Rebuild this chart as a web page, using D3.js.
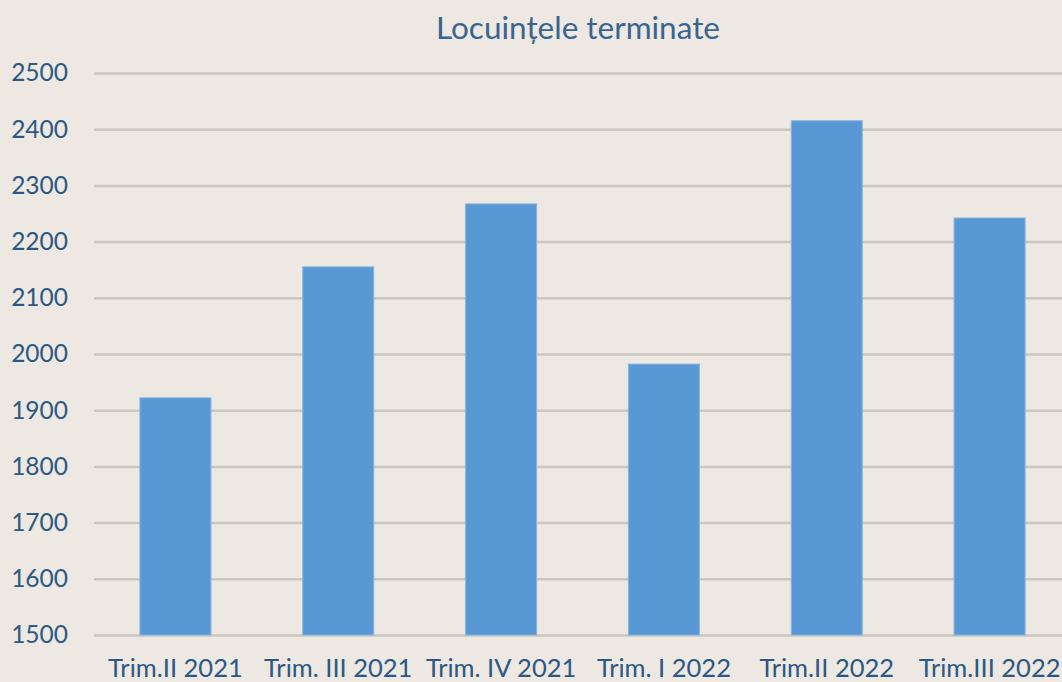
<!DOCTYPE html>
<html>
<head>
<meta charset="utf-8">
<script src="https://cdn.jsdelivr.net/npm/d3@7"></script>
<style>
  html, body { margin: 0; padding: 0; background: #ede8e2; }
  svg text { font-family: "Lato", sans-serif; }
</style>
</head>
<body>
<div id="chart"></div>
<script>
// Data
const categories = ["Trim.II 2021", "Trim. III 2021", "Trim. IV 2021", "Trim. I 2022", "Trim.II 2022", "Trim.III 2022"];
const values = [1922, 2155, 2267, 1982, 2415, 2242];
const yTicks = [1500, 1600, 1700, 1800, 1900, 2000, 2100, 2200, 2300, 2400, 2500];
const chartTitle = "Locuințele terminate";

const W = 1062, H = 682;
const plot = { left: 94, right: 1071, top: 73, bottom: 635 };

const svg = d3.select("#chart").append("svg")
    .attr("width", W)
    .attr("height", H);

svg.append("rect")
    .attr("width", W)
    .attr("height", H)
    .attr("fill", "#ede8e2");

const x = d3.scaleBand()
    .domain(categories)
    .range([plot.left, plot.right])
    .paddingInner(0.564)
    .paddingOuter(0.282);

const y = d3.scaleLinear()
    .domain([1500, 2500])
    .range([plot.bottom, plot.top]);

// gridlines + y labels
const yAxis = svg.append("g")
    .attr("transform", `translate(${plot.left},0)`)
    .call(d3.axisLeft(y)
        .tickValues(yTicks)
        .tickFormat(d3.format("d"))
        .tickSizeInner(-(W - plot.left))
        .tickSizeOuter(0)
        .tickPadding(26));

yAxis.select(".domain").remove();
yAxis.selectAll(".tick line")
    .attr("stroke", "#cbc6c0")
    .attr("stroke-width", 2.5);
yAxis.selectAll(".tick text")
    .attr("fill", "#2b5983")
    .style("font-size", "24.5px");

// bars
svg.append("g")
    .selectAll("rect")
    .data(values)
    .join("rect")
    .attr("x", (d, i) => x(categories[i]))
    .attr("y", d => y(d))
    .attr("width", x.bandwidth())
    .attr("height", d => y(1500) - y(d))
    .attr("fill", "#5898d4")
    .attr("stroke", "#86b3df")
    .attr("stroke-width", 1);

// x labels
const xAxis = svg.append("g")
    .attr("transform", `translate(0,${plot.bottom})`)
    .call(d3.axisBottom(x).tickSize(0).tickPadding(24));

xAxis.select(".domain").remove();
xAxis.selectAll(".tick text")
    .attr("fill", "#2b5983")
    .style("font-size", "25.5px");

// title
svg.append("text")
    .attr("x", 578)
    .attr("y", 39)
    .attr("text-anchor", "middle")
    .attr("fill", "#3a6590")
    .style("font-size", "31.5px")
    .text(chartTitle);
</script>
</body>
</html>
